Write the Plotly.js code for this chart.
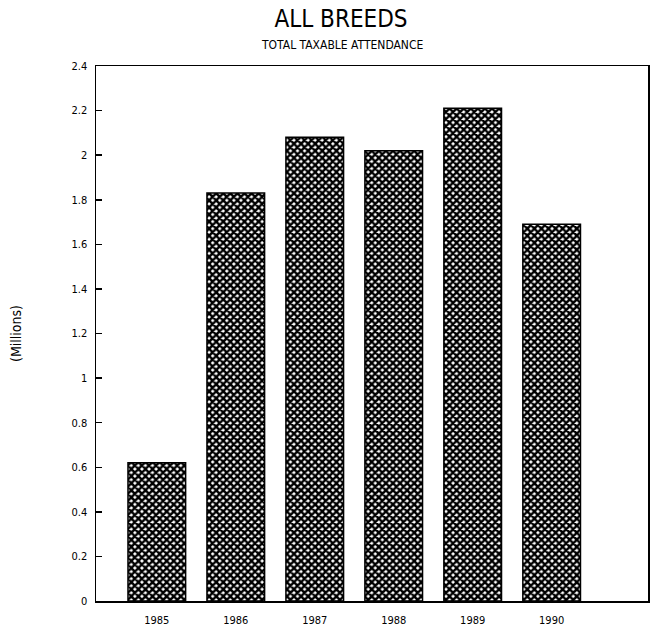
<!DOCTYPE html>
<html>
<head>
<meta charset="utf-8">
<script src="https://cdn.plot.ly/plotly-3.0.1.min.js"></script>
<style>html,body{margin:0;padding:0;background:#fff;}#chart{width:657px;height:634px;}</style>
</head>
<body>
<div id="chart"></div>
<script>
const years = ['1985', '1986', '1987', '1988', '1989', '1990'];
const attendance = [0.62, 1.83, 2.08, 2.02, 2.21, 1.69];
const yTicks = [0, 0.2, 0.4, 0.6, 0.8, 1, 1.2, 1.4, 1.6, 1.8, 2, 2.2, 2.4];
const yTickText = ['0', '0.2', '0.4', '0.6', '0.8', '1', '1.2', '1.4', '1.6', '1.8', '2', '2.2', '2.4'];
const chartTitle = 'ALL BREEDS';
const chartSubtitle = 'TOTAL TAXABLE ATTENDANCE';
const yTitle = '(Millions)';

const font = '"Liberation Sans Narrow", "DejaVu Sans Condensed", "DejaVu Sans", sans-serif';

const trace = {
  type: 'bar',
  x: years,
  y: attendance,
  width: 0.73,
  marker: {
    color: '#ffffff',
    line: {color: '#000', width: 1.5},
    pattern: {shape: 'x', fgcolor: '#000', bgcolor: '#fff', size: 5, solidity: 0.72}
  },
  hoverinfo: 'x+y'
};

const layout = {
  width: 657, height: 634,
  margin: {l: 96, r: 9, t: 66, b: 33},
  paper_bgcolor: '#fff', plot_bgcolor: '#fff',
  showlegend: false,
  title: {
    text: chartTitle,
    x: 0.519, xanchor: 'center', xref: 'container',
    y: 0.97, yanchor: 'middle', yref: 'container',
    font: {family: font, size: 24, color: '#000'}
  },
  annotations: [
    {text: chartSubtitle, xref: 'paper', yref: 'paper', x: 0.446, y: 1.04,
     xanchor: 'center', yanchor: 'middle', showarrow: false,
     font: {family: font, size: 12, color: '#000'}}
  ],
  xaxis: {
    type: 'category',
    range: [-0.77, 6.22],
    showline: true, linecolor: '#000', linewidth: 1.5, mirror: true,
    ticks: '', showgrid: false, zeroline: false,
    tickfont: {family: font, size: 11, color: '#000'},
    ticklabelstandoff: 8
  },
  yaxis: {
    range: [0, 2.4],
    tickvals: yTicks, ticktext: yTickText,
    ticks: 'inside', ticklen: 6, tickwidth: 1.5, tickcolor: '#000',
    showline: true, linecolor: '#000', linewidth: 1.5, mirror: true,
    showgrid: false, zeroline: false,
    tickfont: {family: font, size: 11, color: '#000'},
    ticklabelstandoff: 5,
    title: {text: yTitle, standoff: 46, font: {family: font, size: 14, color: '#000'}}
  }
};

Plotly.newPlot('chart', [trace], layout, {displayModeBar: false, staticPlot: true});
</script>
</body>
</html>
